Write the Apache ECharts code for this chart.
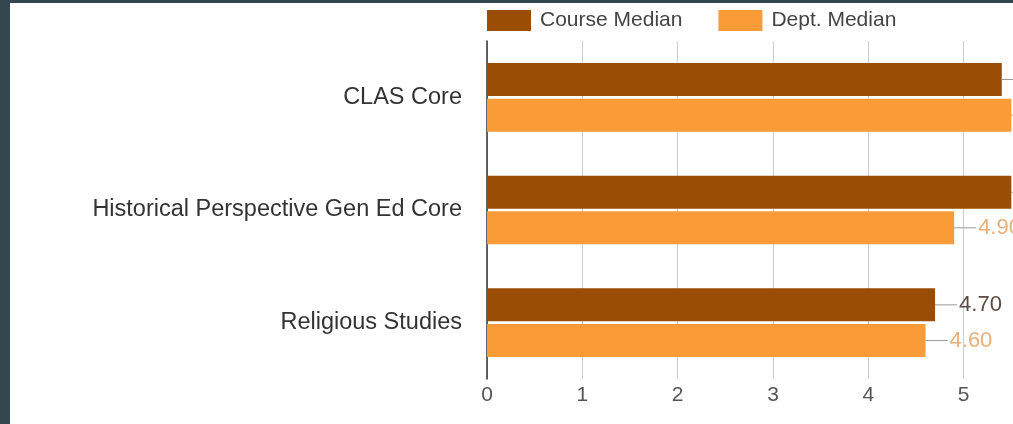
<!DOCTYPE html>
<html>
<head>
<meta charset="utf-8">
<script src="https://cdn.jsdelivr.net/npm/echarts@6/dist/echarts.min.js"></script>
<style>
  html, body { margin: 0; padding: 0; background: #344750; width: 1013px; height: 424px; overflow: hidden; }
  #frame { position: absolute; left: 10px; top: 3px; width: 1003px; height: 421px; background: #ffffff; }
  #chart { width: 1003px; height: 421px; }
</style>
</head>
<body>
<div id="frame"><div id="chart"></div></div>
<script>
const categories = ['CLAS Core', 'Historical Perspective Gen Ed Core', 'Religious Studies'];
const courseMedian = [5.4, 5.5, 4.7];
const deptMedian = [5.5, 4.9, 4.6];
const xTicks = [0, 1, 2, 3, 4, 5, 6];

const chart = echarts.init(document.getElementById('chart'), null, { renderer: 'canvas' });
const FONT = '"Liberation Sans", Arial, sans-serif';

function makeLabel(textColor) {
  return {
    show: true,
    position: 'right',
    distance: 0,
    formatter: p => '{ln| }{v|' + p.value.toFixed(2) + '}',
    rich: {
      ln: { width: 22, height: 1, backgroundColor: '#9a9a9a', verticalAlign: 'middle' },
      v: { color: textColor, fontSize: 22, fontFamily: FONT, padding: [0, 0, 0, 2] }
    }
  };
}

chart.setOption({
  animation: false,
  backgroundColor: '#ffffff',
  textStyle: { fontFamily: FONT },
  legend: {
    left: 477,
    top: 7,
    padding: 0,
    itemWidth: 44,
    itemHeight: 21,
    itemGap: 36,
    icon: 'rect',
    textStyle: { fontSize: 21, color: '#444444', fontFamily: FONT, padding: [0, 0, 0, 4] },
    data: ['Course Median', 'Dept. Median']
  },
  grid: {
    left: 477,
    right: -46,
    top: 38,
    bottom: 45,
    containLabel: false,
    outerBoundsMode: 'none'
  },
  xAxis: {
    type: 'value',
    min: 0,
    max: xTicks[xTicks.length - 1],
    interval: 1,
    axisLine: { show: false },
    axisTick: { show: false },
    splitLine: { show: true, lineStyle: { color: '#cccccc', width: 1 } },
    axisLabel: {
      color: '#555555',
      fontSize: 21,
      fontFamily: FONT,
      margin: 6,
      formatter: v => String(v)
    }
  },
  yAxis: {
    type: 'category',
    inverse: true,
    data: categories,
    axisLine: { show: true, lineStyle: { color: '#333333', width: 1.5 } },
    axisTick: { show: false },
    axisLabel: { color: '#333333', fontSize: 23.5, fontFamily: FONT, margin: 25, padding: [3, 0, 0, 0] }
  },
  series: [
    {
      name: 'Course Median',
      type: 'bar',
      data: courseMedian,
      barWidth: 33,
      barGap: '8%',
      itemStyle: { color: '#9a4d04' },
      label: makeLabel('#5a4c42')
    },
    {
      name: 'Dept. Median',
      type: 'bar',
      data: deptMedian,
      barWidth: 33,
      barGap: '8%',
      itemStyle: { color: '#f99b36' },
      label: makeLabel('#e8b07a')
    }
  ]
});
</script>
</body>
</html>
